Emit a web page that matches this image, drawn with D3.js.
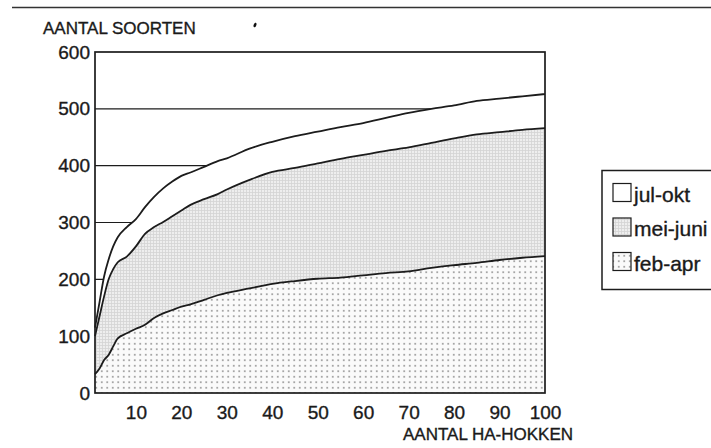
<!DOCTYPE html>
<html>
<head>
<meta charset="utf-8">
<script src="https://cdn.jsdelivr.net/npm/d3@7/dist/d3.min.js"></script>
<style>
  html, body { margin: 0; padding: 0; background: #fff; }
  svg { display: block; }
  text { font-family: "Liberation Sans", Arial, Helvetica, sans-serif; fill: #1a1a1a; stroke: #1a1a1a; stroke-width: 0.35px; }
</style>
</head>
<body>
<svg id="chart" width="711" height="448"></svg>
<script>
// ---- data ----
const haHokken = [1, 2, 3, 4, 5, 6, 8, 10, 12, 14, 16, 18, 20, 22, 25, 28, 30, 35, 40, 45, 50, 55, 60, 65, 70, 75, 80, 85, 90, 95, 100];
const julOkt  = [115, 160, 205, 235, 258, 274, 292, 306, 327, 345, 360, 372, 382, 388, 398, 408, 413, 430, 442, 452, 460, 468, 475, 484, 493, 500, 506, 514, 518, 522, 526];
const meiJuni = [100, 135, 170, 200, 218, 230, 240, 258, 280, 292, 301, 311, 321, 331, 341, 350, 358, 375, 389, 396, 404, 412, 419, 426, 432, 440, 448, 455, 459, 463, 466];
const febApr  = [33, 43, 58, 67, 82, 96, 105, 113, 120, 132, 140, 146, 152, 156, 164, 172, 176, 184, 192, 197, 201, 203, 207, 211, 214, 220, 225, 229, 234, 238, 241];
const yTicks = [0, 100, 200, 300, 400, 500, 600];
const xTicks = [10, 20, 30, 40, 50, 60, 70, 80, 90, 100];
const seriesNames = ["jul-okt", "mei-juni", "feb-apr"];
const yTitle = "AANTAL SOORTEN";
const xTitle = "AANTAL HA-HOKKEN";

const svg = d3.select("#chart");
const ink = "#1c1c1c";

// patterns
const defs = svg.append("defs");
const grid = defs.append("pattern").attr("id", "gridPat").attr("patternUnits", "userSpaceOnUse")
  .attr("width", 3).attr("height", 3);
grid.append("rect").attr("width", 3).attr("height", 3).attr("fill", "#eeeeee");
grid.append("rect").attr("x", 0).attr("y", 0).attr("width", 3).attr("height", 0.8).attr("fill", "#d4d4d4");
grid.append("rect").attr("x", 0).attr("y", 0).attr("width", 0.8).attr("height", 3).attr("fill", "#d4d4d4");

const dots = defs.append("pattern").attr("id", "dotPat").attr("patternUnits", "userSpaceOnUse")
  .attr("width", 5.5).attr("height", 5.5);
dots.append("rect").attr("width", 5.5).attr("height", 5.5).attr("fill", "#fafafa");
dots.append("circle").attr("cx", 2.75).attr("cy", 2.75).attr("r", 0.9).attr("fill", "#8a8a8a");

// scales
const x = d3.scaleLinear().domain([1, 100]).range([95, 545]);
const y = d3.scaleLinear().domain([0, 600]).range([393, 52]);

// top rule and scan speck
svg.append("line").attr("x1", 12).attr("x2", 711).attr("y1", 7.5).attr("y2", 7.5)
  .attr("stroke", "#333").attr("stroke-width", 1.4);
svg.append("ellipse").attr("cx", 255).attr("cy", 25).attr("rx", 1.3).attr("ry", 2.4)
  .attr("transform", "rotate(20,255,25)").attr("fill", "#111");

// gridlines (under areas)
svg.append("g").selectAll("line").data(yTicks.filter(d => d > 0 && d < 600)).join("line")
  .attr("x1", x(1)).attr("x2", x(100)).attr("y1", d => y(d)).attr("y2", d => y(d))
  .attr("stroke", ink).attr("stroke-width", 1.2);

const rows = haHokken.map((h, i) => ({ h, j: julOkt[i], m: meiJuni[i], f: febApr[i] }));
const curve = d3.curveMonotoneX;
const area = key => d3.area().x(d => x(d.h)).y0(y(0)).y1(d => y(d[key])).curve(curve);
const line = key => d3.line().x(d => x(d.h)).y(d => y(d[key])).curve(curve);

svg.append("path").datum(rows).attr("d", area("j")).attr("fill", "#fff");
svg.append("path").datum(rows).attr("d", area("m")).attr("fill", "url(#gridPat)");
svg.append("path").datum(rows).attr("d", area("f")).attr("fill", "url(#dotPat)");

["j", "m", "f"].forEach(k => {
  svg.append("path").datum(rows).attr("d", line(k)).attr("fill", "none")
    .attr("stroke", ink).attr("stroke-width", 1.8).attr("stroke-linejoin", "round");
});

// frame
svg.append("rect").attr("x", x(1)).attr("y", y(600)).attr("width", x(100) - x(1)).attr("height", y(0) - y(600))
  .attr("fill", "none").attr("stroke", ink).attr("stroke-width", 1.7);

// axes
const yAxis = svg.append("g").attr("transform", `translate(${x(1)},0)`)
  .call(d3.axisLeft(y).tickValues(yTicks).tickSize(0).tickPadding(5).tickFormat(d3.format("d")));
yAxis.select(".domain").remove();
yAxis.selectAll("text").style("font-size", "19px").attr("fill", "#1a1a1a")
  .style("font-family", '"Liberation Sans", Arial, sans-serif');

const xAxis = svg.append("g").attr("transform", `translate(0,${y(0)})`)
  .call(d3.axisBottom(x).tickValues(xTicks).tickSize(0).tickPadding(13).tickFormat(d3.format("d")));
xAxis.select(".domain").remove();
xAxis.selectAll("text").style("font-size", "19px").attr("fill", "#1a1a1a")
  .style("font-family", '"Liberation Sans", Arial, sans-serif');

// titles
svg.append("text").attr("x", 43).attr("y", 33.5).style("font-size", "17px").text(yTitle);
svg.append("text").attr("x", 403).attr("y", 440).style("font-size", "17px").text(xTitle);

// legend
svg.append("rect").attr("x", 602).attr("y", 170.5).attr("width", 130).attr("height", 119)
  .attr("fill", "#fff").attr("stroke", ink).attr("stroke-width", 1.5);
const legFills = ["#fff", "url(#gridPat)", "url(#dotPat)"];
const legBase = [201.5, 236, 270.5];
seriesNames.forEach((name, i) => {
  svg.append("rect").attr("x", 613).attr("y", legBase[i] - 18).attr("width", 18).attr("height", 18)
    .attr("fill", legFills[i]).attr("stroke", ink).attr("stroke-width", 1.2);
  svg.append("text").attr("x", 634).attr("y", legBase[i]).style("font-size", "21px").text(name);
});
</script>
</body>
</html>
